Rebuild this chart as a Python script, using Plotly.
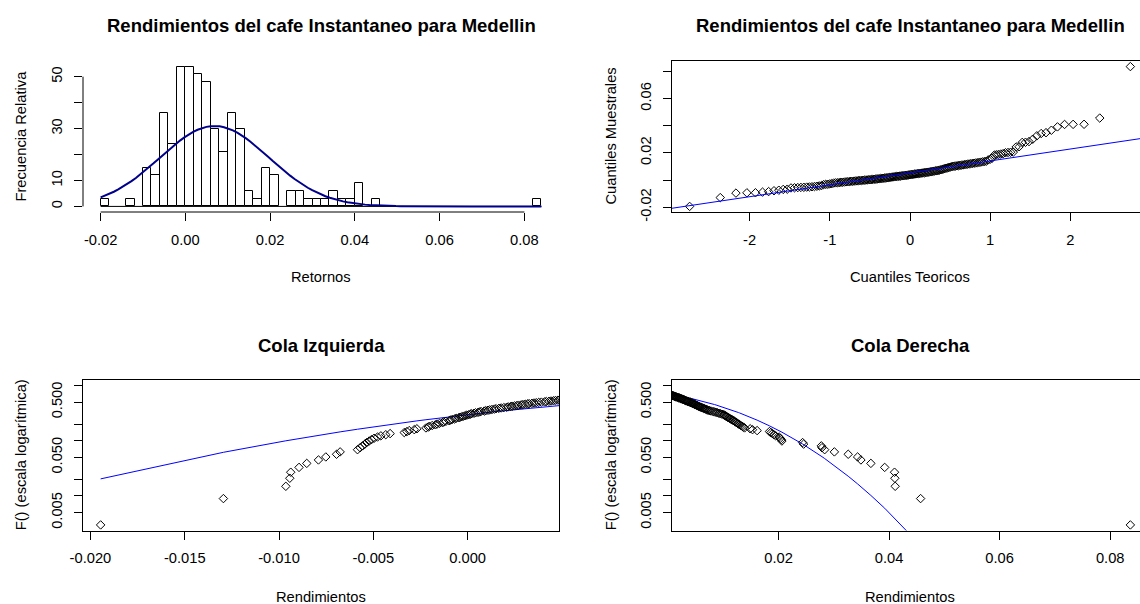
import numpy as np
import plotly.graph_objects as go
from statistics import NormalDist

# Retornos diarios ordenados (cafe instantaneo, Medellin)
retornos = [
    -0.01946, -0.01295,
    -0.00964, -0.00943, -0.00938, -0.00894, -0.00853,
    -0.00791, -0.00752, -0.00695, -0.00676,
    -0.00584, -0.00570, -0.00557, -0.00545, -0.00535, -0.00522,
    -0.00510, -0.00496, -0.00478, -0.00460, -0.00434, -0.00411,
    -0.00336, -0.00322, -0.00310, -0.00283, -0.00269, -0.00221, -0.00209, -0.00203,
    -0.00188, -0.00171, -0.00162, -0.00149, -0.00133, -0.00127, -0.00115, -0.00098,
    -0.00091, -0.00082, -0.00069, -0.00061, -0.00047, -0.00040, -0.00031, -0.00022,
    -0.00013, -0.00004,
    0.00006, 0.00015, 0.00021, 0.00034, 0.00042, 0.00055, 0.00063, 0.00071, 0.00088,
    0.00096, 0.00108, 0.00117, 0.00129, 0.00142, 0.00151, 0.00166, 0.00178, 0.00192,
    0.00207, 0.00215, 0.00228, 0.00236, 0.00249, 0.00261, 0.00270, 0.00284, 0.00293,
    0.00305, 0.00318, 0.00326, 0.00341, 0.00352, 0.00364, 0.00377, 0.00391,
    0.00408, 0.00417, 0.00431, 0.00442, 0.00455, 0.00466, 0.00479, 0.00488,
    0.00502, 0.00515, 0.00527, 0.00538, 0.00551, 0.00563, 0.00578, 0.00592,
    0.00611, 0.00628, 0.00645, 0.00659, 0.00677, 0.00694, 0.00712, 0.00735, 0.00758, 0.00781,
    0.00815, 0.00842, 0.00869, 0.00897, 0.00921, 0.00948, 0.00976,
    0.01006, 0.01019, 0.01034, 0.01048, 0.01063, 0.01077, 0.01095, 0.01112,
    0.01131, 0.01148, 0.01167, 0.01186,
    0.01204, 0.01221, 0.01239, 0.01258, 0.01276, 0.01297, 0.01318, 0.01341, 0.01363, 0.01385,
    0.01486, 0.01529, 0.01612,
    0.01835, 0.01862, 0.01889, 0.01915, 0.01948,
    0.02010, 0.02030, 0.02050, 0.02060,
    0.02435, 0.02453,
    0.02774, 0.02785, 0.02834,
    0.03010, 0.03260, 0.03430, 0.03490, 0.03670, 0.03920,
    0.04098, 0.04104, 0.04110,
    0.04570, 0.08365,
]

# Cortes del histograma
bin_inicio = -0.02
bin_fin = 0.084
bin_ancho = 0.002

# Marcas de los ejes
ticks_hist_x = [-0.02, 0.0, 0.02, 0.04, 0.06, 0.08]
texto_hist_x = ["-0.02", "0.00", "0.02", "0.04", "0.06", "0.08"]
ticks_hist_y = [0, 10, 20, 30, 40, 50]
texto_hist_y = ["0", "10", "", "30", "", "50"]
ticks_qq_x = [-2, -1, 0, 1, 2]
ticks_qq_y = [-0.02, 0.0, 0.02, 0.04, 0.06, 0.08]
texto_qq_y = ["-0.02", "", "0.02", "", "0.06", ""]
ticks_izq_x = [-0.020, -0.015, -0.010, -0.005, 0.000]
texto_izq_x = ["-0.020", "-0.015", "-0.010", "-0.005", "0.000"]
ticks_der_x = [0.02, 0.04, 0.06, 0.08]
texto_der_x = ["0.02", "0.04", "0.06", "0.08"]
ticks_log = [0.005, 0.01, 0.02, 0.05, 0.1, 0.2, 0.5, 1.0]
texto_log = ["0.005", "", "", "0.050", "", "", "0.500", ""]

# ---- estadisticos ----
x = np.sort(np.array(retornos))
n = len(x)
media = float(x.mean())
desv = float(x.std(ddof=1))
normal = NormalDist(media, desv)
std = NormalDist()
pp = (np.arange(1, n + 1) - 0.5) / n
teoricos = np.array([std.inv_cdf(p) for p in pp])
mediana = float(np.median(x))


def r_lim(lo, hi):
    d = 0.04 * (hi - lo)
    return [lo - d, hi + d]


# ---- geometria en pixeles ----
W, H = 1140, 604
COL_IZQ = (83, 559)
COL_DER = (672, 1148)
VISIBLE = 1140
FILA_SUP = (61, 212)
FILA_INF = (380, 530.5)


def fx(p):
    return p / W


def fy(p):
    return 1 - p / H


def recorte(rng):
    # la columna derecha queda cortada en el borde de la figura
    frac = (VISIBLE - COL_DER[0]) / (COL_DER[1] - COL_DER[0])
    return [rng[0], rng[0] + (rng[1] - rng[0]) * frac]


dom_x_izq = [fx(COL_IZQ[0]), fx(COL_IZQ[1])]
dom_x_der = [fx(COL_DER[0]), 1.0]
dom_y_sup = [fy(FILA_SUP[1]), fy(FILA_SUP[0])]
dom_y_inf = [fy(FILA_INF[1]), fy(FILA_INF[0])]

FUENTE = "Liberation Sans, Arial, sans-serif"
TAM = 14.7
TIT = 18.5
AZUL = "#0000FF"
AZUL_OSC = "#00008B"
marcador = dict(symbol="diamond-open", size=6.5, color="black", line=dict(width=1, color="black"))

fig = go.Figure()

# 1) Histograma con densidad normal
fig.add_trace(go.Histogram(
    x=x, xbins=dict(start=bin_inicio, end=bin_fin, size=bin_ancho),
    histnorm="probability density", autobinx=False,
    marker=dict(color="white", line=dict(color="black", width=1)),
    xaxis="x", yaxis="y", hoverinfo="skip"))
xs = np.linspace(bin_inicio, bin_fin, 101)
fig.add_trace(go.Scatter(
    x=xs, y=[normal.pdf(v) for v in xs], mode="lines",
    line=dict(color=AZUL_OSC, width=2), xaxis="x", yaxis="y"))
conteos, _ = np.histogram(x, bins=np.arange(bin_inicio, bin_fin + bin_ancho / 2, bin_ancho))
dens_max = conteos.max() / (n * bin_ancho)

# 2) QQ normal
fig.add_trace(go.Scatter(x=teoricos, y=x, mode="markers", marker=marcador,
                         xaxis="x2", yaxis="y2"))
q1, q3 = np.quantile(x, [0.25, 0.75])
z1, z3 = std.inv_cdf(0.25), std.inv_cdf(0.75)
pend = (q3 - q1) / (z3 - z1)
inter = q1 - pend * z1
rango_qq_x = r_lim(teoricos.min(), teoricos.max())
fig.add_trace(go.Scatter(
    x=rango_qq_x, y=[inter + pend * v for v in rango_qq_x], mode="lines",
    line=dict(color=AZUL, width=1), xaxis="x2", yaxis="y2"))

# 3) Cola izquierda
fig.add_trace(go.Scatter(x=x, y=[normal.cdf(v) for v in x], mode="lines",
                         line=dict(color=AZUL, width=1), xaxis="x3", yaxis="y3"))
fig.add_trace(go.Scatter(x=x, y=pp, mode="markers", marker=marcador,
                         xaxis="x3", yaxis="y3"))

# 4) Cola derecha
fig.add_trace(go.Scatter(x=x, y=[1 - normal.cdf(v) for v in x], mode="lines",
                         line=dict(color=AZUL, width=1), xaxis="x4", yaxis="y4"))
fig.add_trace(go.Scatter(x=x, y=1 - pp, mode="markers", marker=marcador,
                         xaxis="x4", yaxis="y4"))

eje = dict(showgrid=False, zeroline=False, ticks="outside", ticklen=8, tickwidth=1,
           tickcolor="black", linecolor="black", linewidth=1, automargin=False,
           tickfont=dict(family=FUENTE, size=TAM, color="black"),
           ticklabelstandoff=6)

log_lo, log_hi = np.log10(pp.min()), np.log10(pp.max())
rango_log = r_lim(log_lo, log_hi)

fig.update_layout(
    template="none",
    width=W, height=H, margin=dict(l=0, r=0, t=0, b=0, pad=0, autoexpand=False),
    paper_bgcolor="white", plot_bgcolor="white", showlegend=False, bargap=0,
    xaxis=dict(eje, domain=dom_x_izq, anchor="y", range=r_lim(bin_inicio, bin_fin),
               tickmode="array", tickvals=ticks_hist_x, ticktext=texto_hist_x, showline=False),
    yaxis=dict(eje, domain=dom_y_sup, anchor="x", range=r_lim(0, dens_max),
               tickmode="array", tickvals=ticks_hist_y, ticktext=texto_hist_y,
               tickangle=-90, showline=False),
    xaxis2=dict(eje, domain=dom_x_der, anchor="y2", range=recorte(rango_qq_x),
                tickmode="array", tickvals=ticks_qq_x, ticktext=[str(v) for v in ticks_qq_x],
                showline=True, mirror=True),
    yaxis2=dict(eje, domain=dom_y_sup, anchor="x2", range=r_lim(x.min(), x.max()),
                tickmode="array", tickvals=ticks_qq_y, ticktext=texto_qq_y,
                tickangle=-90, showline=True),
    xaxis3=dict(eje, domain=dom_x_izq, anchor="y3", range=r_lim(x.min(), mediana),
                tickmode="array", tickvals=ticks_izq_x, ticktext=texto_izq_x,
                showline=True, mirror=True),
    yaxis3=dict(eje, domain=dom_y_inf, anchor="x3", type="log", range=rango_log,
                tickmode="array", tickvals=ticks_log, ticktext=texto_log,
                tickangle=-90, showline=True, mirror=True),
    xaxis4=dict(eje, domain=dom_x_der, anchor="y4", range=recorte(r_lim(mediana, x.max())),
                tickmode="array", tickvals=ticks_der_x, ticktext=texto_der_x,
                showline=True, mirror=True),
    yaxis4=dict(eje, domain=dom_y_inf, anchor="x4", type="log", range=rango_log,
                tickmode="array", tickvals=ticks_log, ticktext=texto_log,
                tickangle=-90, showline=True),
)

# lineas de eje del histograma (de la primera a la ultima marca)
fig.add_shape(type="line", xref="x", yref="paper", x0=ticks_hist_x[0], x1=ticks_hist_x[-1],
              y0=dom_y_sup[0], y1=dom_y_sup[0], line=dict(color="black", width=1))
fig.add_shape(type="line", xref="paper", yref="y", x0=dom_x_izq[0], x1=dom_x_izq[0],
              y0=ticks_hist_y[0], y1=ticks_hist_y[-1], line=dict(color="black", width=1))
fig.add_shape(type="line", xref="x", yref="y", x0=bin_inicio, x1=bin_fin, y0=0, y1=0,
              line=dict(color="black", width=1), layer="below")


# textos: titulos y nombres de ejes
def texto(s, px_x, px_y, size=TAM, bold=False, angle=0):
    fig.add_annotation(
        text=f"<b>{s}</b>" if bold else s, x=fx(px_x), y=fy(px_y),
        xref="paper", yref="paper", xanchor="center", yanchor="middle",
        showarrow=False, textangle=angle,
        font=dict(family=FUENTE, size=size, color="black"))


cx_izq = (COL_IZQ[0] + COL_IZQ[1]) / 2
cx_der = (COL_DER[0] + COL_DER[1]) / 2
cy_sup = (FILA_SUP[0] + FILA_SUP[1]) / 2
cy_inf = (FILA_INF[0] + FILA_INF[1]) / 2
texto("Rendimientos del cafe Instantaneo para Medellin", cx_izq, 25, TIT, True)
texto("Rendimientos del cafe Instantaneo para Medellin", cx_der, 25, TIT, True)
texto("Cola Izquierda", cx_izq, 345, TIT, True)
texto("Cola Derecha", cx_der, 345, TIT, True)
texto("Retornos", cx_izq, 277)
texto("Cuantiles Teoricos", cx_der, 277)
texto("Rendimientos", cx_izq, 597)
texto("Rendimientos", cx_der, 597)
texto("Frecuencia Relativa", 20, cy_sup, angle=-90)
texto("Cuantiles Muestrales", 610, cy_sup, angle=-90)
texto("F() (escala logarítmica)", 21, cy_inf, angle=-90)
texto("F() (escala logarítmica)", 611, cy_inf, angle=-90)

fig.write_html("out.html")
